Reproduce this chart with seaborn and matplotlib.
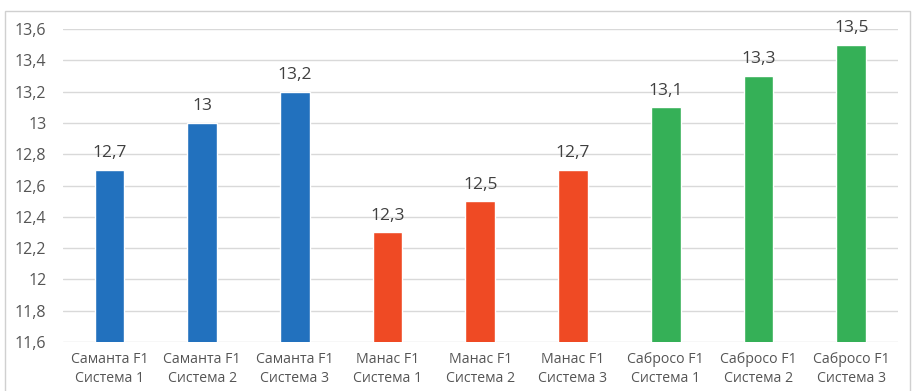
import matplotlib
matplotlib.use("Agg")
import matplotlib.pyplot as plt
from matplotlib.patches import Rectangle
from matplotlib.ticker import FuncFormatter, MultipleLocator
import seaborn as sns
import pandas as pd

hybrids = ["Саманта F1", "Саманта F1", "Саманта F1",
           "Манас F1", "Манас F1", "Манас F1",
           "Сабросо F1", "Сабросо F1", "Сабросо F1"]
systems = ["Система 1", "Система 2", "Система 3"] * 3
values = [12.7, 13.0, 13.2, 12.3, 12.5, 12.7, 13.1, 13.3, 13.5]
colors = {"Саманта F1": "#2271BE", "Манас F1": "#EF4A24", "Сабросо F1": "#35B057"}

labels = [f"{h}\n{s}" for h, s in zip(hybrids, systems)]
df = pd.DataFrame({"label": labels, "hybrid": hybrids, "value": values})


def comma(v):
    s = f"{v:.1f}".rstrip("0").rstrip(".")
    return s.replace(".", ",")


sns.set_theme(style="white")
plt.rcParams["font.family"] = ["Open Sans", "DejaVu Sans"]

fig = plt.figure(figsize=(9.14, 3.91), dpi=100)
ax = fig.add_axes([0.069, 0.1253, 0.913, 0.8005])

sns.barplot(data=df, x="label", y="value", hue="hybrid", palette=colors,
            dodge=False, width=0.32, legend=False, ax=ax, saturation=1)

ax.set_ylim(11.6, 13.6)
ax.set_xlim(-0.5, len(values) - 0.5)
ax.yaxis.set_major_locator(MultipleLocator(0.2))
ax.yaxis.set_major_formatter(FuncFormatter(lambda v, p: comma(v)))
ax.grid(axis="y", color="#D9D9D9", linewidth=1)
ax.set_axisbelow(True)
for sp in ax.spines.values():
    sp.set_visible(False)
ax.set_xlabel("")
ax.set_ylabel("")
ax.tick_params(axis="y", length=0, pad=12, labelsize=11.5, labelcolor="#555555")
ax.tick_params(axis="x", length=0, pad=7, labelsize=10.2, labelcolor="#555555")
for t in ax.get_xticklabels():
    t.set_linespacing(1.4)

for i, v in enumerate(values):
    ax.text(i, v + 0.055, comma(v), ha="center", va="bottom", fontsize=12.5,
            color="#404040", clip_on=False)

fig.patches.append(Rectangle((5 / 914, -0.01), 905 / 914, 1 - 11 / 391 + 0.01,
                             transform=fig.transFigure, fill=False,
                             edgecolor="#D0D0D0", linewidth=1))

fig.savefig("out.png", dpi=100)
